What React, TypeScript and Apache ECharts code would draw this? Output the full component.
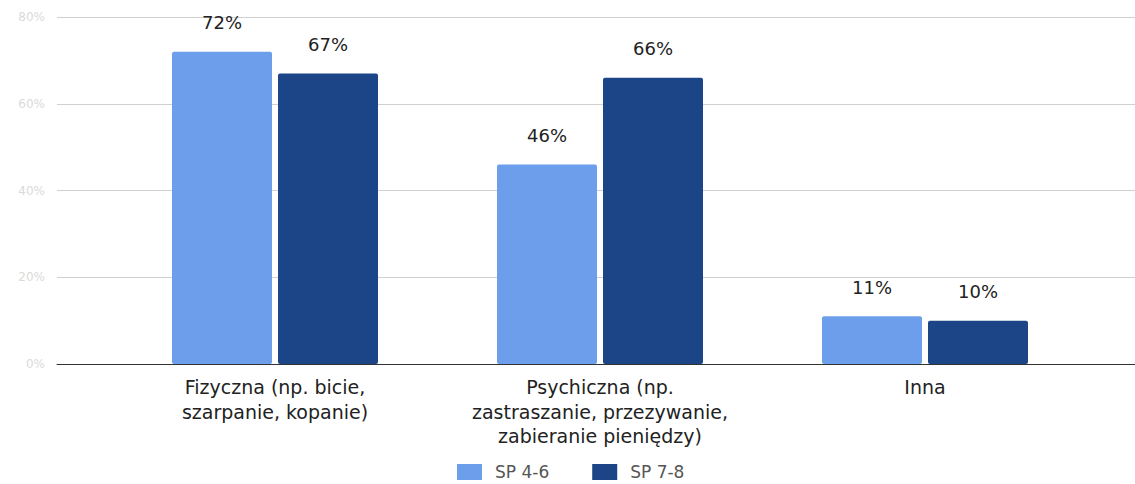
import React, { useEffect, useRef } from "react";
import * as echarts from "echarts";

const categories = [
  "Fizyczna (np. bicie,\nszarpanie, kopanie)",
  "Psychiczna (np.\nzastraszanie, przezywanie,\nzabieranie pieniędzy)",
  "Inna",
];
const seriesNames = ["SP 4-6", "SP 7-8"];
const sp46 = [72, 46, 11];
const sp78 = [67, 66, 10];
const yTicks = [0, 20, 40, 60, 80];

export default function App() {
  const ref = useRef<HTMLDivElement>(null);
  useEffect(() => {
    document.body.style.margin = "0";
    const chart = echarts.init(ref.current!, null, { renderer: "svg" });
    const font = "'DejaVu Sans', Arial, sans-serif";
    const labelCommon = {
      show: true,
      position: "top",
      distance: 20,
      formatter: "{c}%",
      fontSize: 18,
      color: "#222",
      fontFamily: font,
    };
    chart.setOption({
      animation: false,
      textStyle: { fontFamily: font },
      legend: {
        top: 463,
        left: 457,
        padding: 0,
        itemWidth: 25,
        itemHeight: 16,
        itemGap: 43,
        icon: "rect",
        textStyle: {
          fontSize: 17,
          lineHeight: 18,
          color: "#555",
          fontFamily: font,
          padding: [0, 0, 0, 8],
        },
        data: seriesNames,
      },
      grid: [
        { left: 57, right: 0, top: 17, bottom: 120 },
        { left: 112.5, width: 975, top: 17, bottom: 120 },
      ],
      xAxis: [
        {
          gridIndex: 0,
          type: "value",
          min: 0,
          max: 1,
          axisLine: { show: true, lineStyle: { color: "#333", width: 1 } },
          axisTick: { show: false },
          axisLabel: { show: false },
          splitLine: { show: false },
        },
        {
          gridIndex: 1,
          type: "category",
          data: categories,
          axisLine: { show: false },
          axisTick: { show: false },
          axisLabel: {
            margin: 11,
            fontSize: 19,
            lineHeight: 24.5,
            color: "#222",
            fontFamily: font,
            interval: 0,
          },
        },
      ],
      yAxis: [
        {
          gridIndex: 0,
          type: "value",
          min: yTicks[0],
          max: yTicks[yTicks.length - 1],
          interval: 20,
          axisLine: { show: false },
          axisTick: { show: false },
          axisLabel: {
            formatter: "{value}%",
            color: "#dadada",
            fontSize: 12,
            margin: 12,
          },
          splitLine: { lineStyle: { color: "#d0d0d0" } },
        },
        {
          gridIndex: 1,
          type: "value",
          min: yTicks[0],
          max: yTicks[yTicks.length - 1],
          interval: 20,
          show: false,
          splitLine: { show: false },
        },
      ],
      series: [
        {
          name: seriesNames[0],
          type: "bar",
          xAxisIndex: 1,
          yAxisIndex: 1,
          data: sp46,
          barWidth: 100,
          barGap: "6%",
          itemStyle: { color: "#6d9eeb", borderRadius: 2 },
          label: labelCommon,
        },
        {
          name: seriesNames[1],
          type: "bar",
          xAxisIndex: 1,
          yAxisIndex: 1,
          data: sp78,
          barWidth: 100,
          barGap: "6%",
          itemStyle: { color: "#1c4587", borderRadius: 2 },
          label: labelCommon,
        },
      ],
    });
    return () => chart.dispose();
  }, []);
  return (
    <div
      ref={ref}
      style={{ position: "absolute", left: 0, top: 0, width: 1135, height: 484 }}
    />
  );
}
